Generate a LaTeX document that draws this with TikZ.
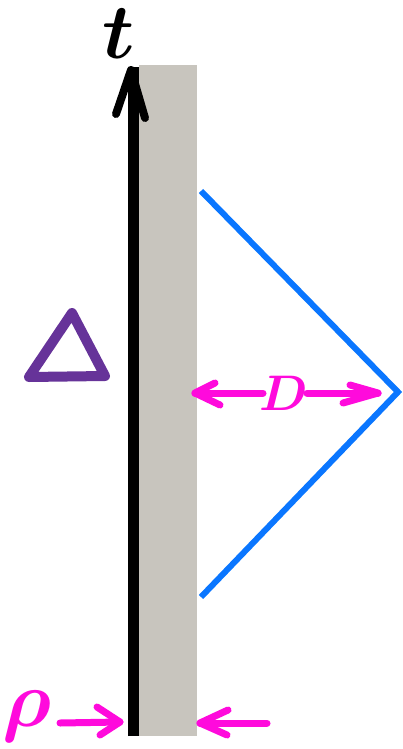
\RequirePackage{fix-cm}
\documentclass[tikz,border=0pt]{standalone}
\usepackage{amsmath}
\usetikzlibrary{calc}
\definecolor{wallgray}{RGB}{200,197,190}
\definecolor{lightblue}{RGB}{10,118,255}
\definecolor{mag}{RGB}{255,10,220}
\definecolor{purp}{RGB}{102,51,153}
\tikzset{
  hand/.style={line cap=round, line join=round},
  magline/.style={hand, draw=mag, line width=7pt},
  lbl/.style={inner sep=0pt, text=mag},
}
\begin{document}
\begin{tikzpicture}[x=1pt,y=-1pt]
\useasboundingbox (0,0) rectangle (403,749);
% wall
\fill[wallgray] (139,65) rectangle (197,736);
% time axis
\coordinate (tb) at (133,736);
\coordinate (tt) at (133,67);
\draw[line width=11pt] (tb) -- (tt);
\coordinate (ttip) at (131,70);
\draw[hand, line width=8pt] (116,114) -- (ttip) -- (145,118);
\node[inner sep=0pt, anchor=base, font=\fontsize{78pt}{78pt}\selectfont] (tlab) at (119,59) {$\boldsymbol{t}$};
% triangle
\coordinate (ta) at (72,313);
\coordinate (tbl) at (29,377);
\coordinate (tbr) at (105,376);
\draw[purp, line width=10pt, line join=round] (ta) -- (tbl) -- (tbr) -- cycle;
% light cone
\coordinate (c1) at (201,191);
\coordinate (c2) at (398,392);
\coordinate (c3) at (201,597);
\draw[lightblue, line width=6pt, line join=miter] (c1) -- (c2) -- (c3);
% D arrow
\node[lbl, font=\fontsize{50pt}{50pt}\selectfont] (D) at (284,393) {$\boldsymbol{D}$};
\coordinate (dl) at (195,393);
\coordinate (dr) at (378,393);
\coordinate (dm1) at (263,393);
\coordinate (dm2) at (307,393);
\draw[magline] (dm1) -- (dl);
\draw[magline] (dm2) -- (dr);
\draw[magline] (215,383) -- (dl) -- (220,405);
\draw[magline] (350,385) -- (dr) -- (343,403);
% rho
\node[lbl, font=\fontsize{80pt}{80pt}\selectfont] (rho) at (27,716) {$\boldsymbol{\rho}$};
\coordinate (rl1) at (60,723);
\coordinate (rl2) at (120,722);
\draw[magline] (rl1) -- (rl2);
\draw[magline] (97,707) -- (rl2) -- (100,735);
\coordinate (rr1) at (267,723);
\coordinate (rr2) at (200,723);
\draw[magline] (rr1) -- (rr2);
\draw[magline] (228,710) -- (rr2) -- (227,735);
\end{tikzpicture}
\end{document}
